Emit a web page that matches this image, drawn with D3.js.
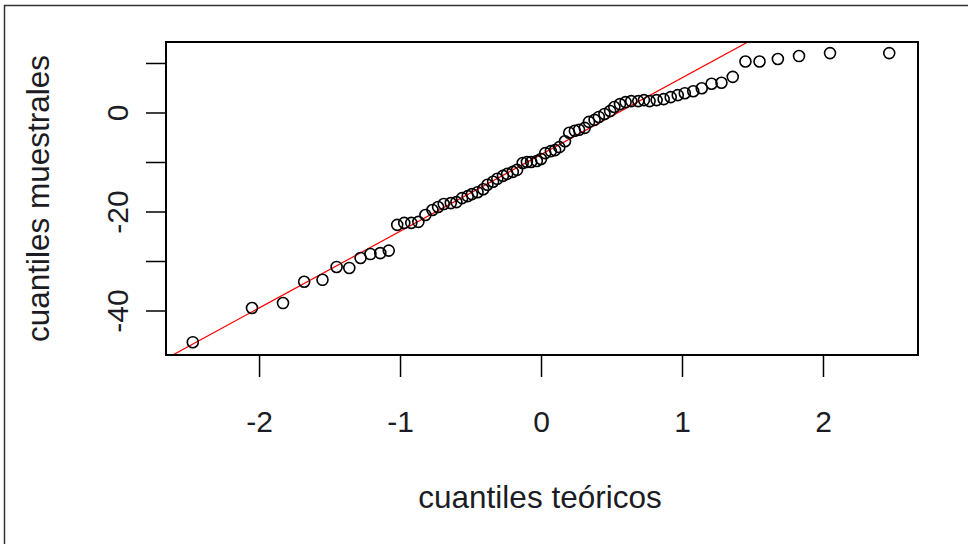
<!DOCTYPE html>
<html>
<head>
<meta charset="utf-8">
<script src="https://cdn.jsdelivr.net/npm/d3@7"></script>
<style>
  html, body { margin: 0; padding: 0; background: #fff; }
  svg { display: block; }
  text { font-family: "Liberation Sans", Arial, sans-serif; fill: #1c1c24; }
</style>
</head>
<body>
<svg id="chart" width="968" height="544"></svg>
<script>
// theoretical quantiles (x)
const theoretical = [
  -2.47, -2.05, -1.83, -1.68, -1.55, -1.45, -1.36, -1.28, -1.21, -1.14,
  -1.08, -1.02, -0.97, -0.92, -0.87, -0.82, -0.77, -0.73, -0.69, -0.64,
  -0.60, -0.56, -0.52, -0.49, -0.45, -0.41, -0.38, -0.34, -0.31, -0.27,
  -0.24, -0.20, -0.17, -0.13, -0.10, -0.07, -0.03, 0.00, 0.03, 0.07,
  0.10, 0.13, 0.17, 0.20, 0.24, 0.27, 0.31, 0.34, 0.38, 0.41,
  0.45, 0.49, 0.52, 0.56, 0.60, 0.64, 0.69, 0.73, 0.77, 0.82,
  0.87, 0.92, 0.97, 1.02, 1.08, 1.14, 1.21, 1.28, 1.36, 1.45,
  1.55, 1.68, 1.83, 2.05, 2.47
];
// sample quantiles (y)
const sample = [
  -46.4, -39.5, -38.5, -34.2, -33.8, -31.2, -31.4, -29.4, -28.6, -28.4,
  -27.9, -22.7, -22.3, -22.3, -22.1, -20.7, -19.7, -19.1, -18.5, -18.3,
  -18.1, -17.3, -16.9, -16.5, -16.1, -15.5, -14.6, -14.0, -13.4, -12.8,
  -12.4, -12.0, -11.6, -10.2, -10.0, -10.0, -9.8, -9.4, -8.2, -7.8,
  -7.6, -7.0, -5.8, -4.1, -3.7, -3.5, -3.1, -1.9, -1.5, -0.9,
  -0.3, 0.3, 1.1, 1.7, 2.1, 2.3, 2.3, 2.5, 2.3, 2.5,
  2.7, 3.1, 3.5, 3.9, 4.3, 4.9, 5.8, 6.0, 7.2, 10.3,
  10.3, 10.8, 11.4, 12.0, 12.0
];
// reference line (qqline): intercept, slope
const refLine = [-8.5, 15.5];

const xTicks = [-2, -1, 0, 1, 2];
const yTicks = [-40, -30, -20, -10, 0, 10];
const yTickLabels = [-40, -20, 0];

const svg = d3.select("#chart");

// outer screenshot frame
svg.append("path")
  .attr("d", "M4.5,544 V5.5 H968")
  .attr("fill", "none").attr("stroke", "#333").attr("stroke-width", 1.5);

const box = { left: 166, right: 918, top: 42, bottom: 355 };
const x = d3.scaleLinear().domain([-2.66, 2.674]).range([box.left, box.right]);
const y = d3.scaleLinear().domain([-48.99, 14.24]).range([box.bottom, box.top]);

svg.append("clipPath").attr("id", "clip")
  .append("rect").attr("x", box.left).attr("y", box.top)
  .attr("width", box.right - box.left).attr("height", box.bottom - box.top);

// reference line
const [x0, x1] = x.domain();
svg.append("line")
  .attr("clip-path", "url(#clip)")
  .attr("x1", x(x0)).attr("y1", y(refLine[0] + refLine[1] * x0))
  .attr("x2", x(x1)).attr("y2", y(refLine[0] + refLine[1] * x1))
  .attr("stroke", "#ff0000").attr("stroke-width", 1.2);

// points
const pts = theoretical.map((t, i) => ({ t, s: sample[i] }));
svg.append("g").selectAll("circle").data(pts).join("circle")
  .attr("cx", d => x(d.t)).attr("cy", d => y(d.s)).attr("r", 5.5)
  .attr("fill", "none").attr("stroke", "#000").attr("stroke-width", 1.6);

// box
svg.append("rect")
  .attr("x", box.left).attr("y", box.top)
  .attr("width", box.right - box.left).attr("height", box.bottom - box.top)
  .attr("fill", "none").attr("stroke", "#000").attr("stroke-width", 2);

// x axis
const xAxis = d3.axisBottom(x).tickValues(xTicks).tickSize(22).tickPadding(34)
  .tickFormat(d => String(d));
const gx = svg.append("g").attr("transform", `translate(0,${box.bottom})`).call(xAxis);
gx.select(".domain").remove();
gx.selectAll(".tick line").attr("stroke", "#000").attr("stroke-width", 1.5);
gx.selectAll(".tick text").attr("font-size", 30).attr("fill", "#1c1c24")
  .attr("font-family", "Liberation Sans, Arial, sans-serif");

// y axis
const yAxis = d3.axisLeft(y).tickValues(yTicks).tickSize(20)
  .tickFormat(d => yTickLabels.includes(d) ? String(d) : "");
const gy = svg.append("g").attr("transform", `translate(${box.left},0)`).call(yAxis);
gy.select(".domain").remove();
gy.selectAll(".tick line").attr("stroke", "#000").attr("stroke-width", 1.5);
gy.selectAll(".tick text")
  .attr("font-size", 30).attr("fill", "#1c1c24")
  .attr("font-family", "Liberation Sans, Arial, sans-serif")
  .attr("text-anchor", "middle")
  .attr("x", null)
  .attr("transform", "translate(-49,0) rotate(-90)")
  .attr("dy", "0.35em");

// axis titles
svg.append("text")
  .attr("x", 540).attr("y", 508)
  .attr("text-anchor", "middle").attr("font-size", 31.5)
  .text("cuantiles teóricos");
svg.append("text")
  .attr("transform", `translate(49,${(box.top + box.bottom) / 2}) rotate(-90)`)
  .attr("text-anchor", "middle").attr("font-size", 31.5)
  .text("cuantiles muestrales");
</script>
</body>
</html>
